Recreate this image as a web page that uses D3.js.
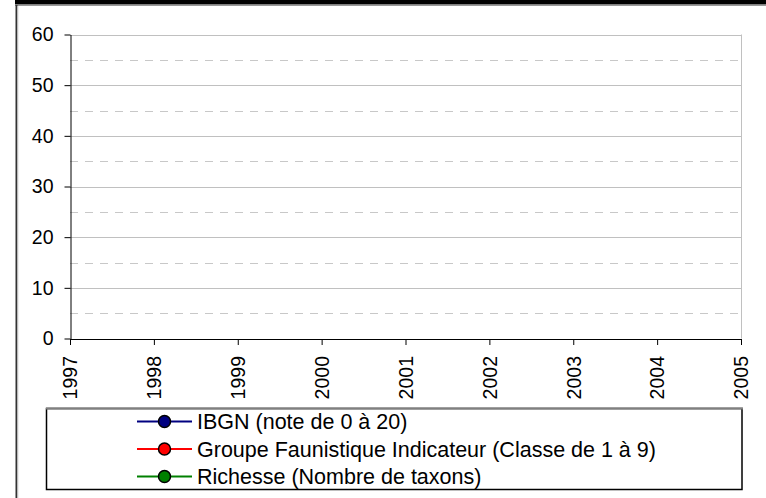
<!DOCTYPE html>
<html>
<head>
<meta charset="utf-8">
<script src="https://cdn.jsdelivr.net/npm/d3@7"></script>
<style>
  body { margin: 0; background: #fff; }
  svg { display: block; font-family: "Liberation Sans", Arial, sans-serif; }
</style>
</head>
<body>
<div id="chart"></div>
<script>
// Chart data: years on x, three series (no values recorded in the picture)
var years = [1997, 1998, 1999, 2000, 2001, 2002, 2003, 2004, 2005];
var yTicks = [0, 10, 20, 30, 40, 50, 60];
var yMinor = [5, 15, 25, 35, 45, 55];
var seriesNames = ["IBGN (note de 0 à 20)",
                   "Groupe Faunistique Indicateur (Classe de 1 à 9)",
                   "Richesse (Nombre de taxons)"];
var seriesColors = ["#000080", "#ff0000", "#008000"];
var ibgn = [];
var groupe = [];
var richesse = [];
var seriesValues = [ibgn, groupe, richesse];

var width = 766, height = 498;
var plot = {left: 70, top: 34.5, right: 741, bottom: 338.5};

var svg = d3.select("#chart").append("svg")
    .attr("width", width)
    .attr("height", height);

//// FRAME //////////////////////////////////////////////////////////////////////

svg.append("rect")
    .attr("x", 15).attr("y", 0)
    .attr("width", width - 15).attr("height", 4.5)
    .attr("fill", "#000");
svg.append("line")
    .attr("x1", 15).attr("x2", width)
    .attr("y1", 5.5).attr("y2", 5.5)
    .attr("stroke", "#999").attr("stroke-width", 1);
svg.append("line")
    .attr("x1", 16.5).attr("x2", 16.5)
    .attr("y1", 5).attr("y2", height)
    .attr("stroke", "#333").attr("stroke-width", 2);
svg.append("line")
    .attr("x1", 18).attr("x2", 18)
    .attr("y1", 6).attr("y2", height)
    .attr("stroke", "#ddd").attr("stroke-width", 1);

//// SCALES /////////////////////////////////////////////////////////////////////

var x = d3.scaleLinear().domain([1997, 2005]).range([plot.left, plot.right]);
var y = d3.scaleLinear().domain([0, 60]).range([plot.bottom, plot.top]);

// grid
svg.append("g").selectAll("line")
    .data(yMinor).enter().append("line")
    .attr("x1", plot.left).attr("x2", plot.right)
    .attr("y1", function(d) { return Math.round(y(d)) + 0.5; })
    .attr("y2", function(d) { return Math.round(y(d)) + 0.5; })
    .attr("stroke", "#c8c8c8")
    .attr("stroke-dasharray", "8,7");

svg.append("g").selectAll("line")
    .data(yTicks.filter(function(d) { return d > 0; })).enter().append("line")
    .attr("x1", plot.left).attr("x2", plot.right)
    .attr("y1", function(d) { return Math.round(y(d)) + 0.5; })
    .attr("y2", function(d) { return Math.round(y(d)) + 0.5; })
    .attr("stroke", "#c0c0c0");

svg.append("line")
    .attr("x1", plot.right + 0.5).attr("x2", plot.right + 0.5)
    .attr("y1", plot.top).attr("y2", plot.bottom)
    .attr("stroke", "#c0c0c0");

//// AXES ///////////////////////////////////////////////////////////////////////

var yAxis = svg.append("g")
    .attr("transform", "translate(" + (plot.left + 0.5) + ",0)")
    .call(d3.axisLeft(y).tickValues(yTicks).tickSize(6).tickSizeOuter(0).tickPadding(11));
yAxis.select(".domain").attr("stroke", "#000");
yAxis.selectAll("line").attr("stroke", "#000");
yAxis.selectAll("text")
    .attr("fill", "#000")
    .style("font-size", "19.5px")
    .style("font-family", "Liberation Sans, Arial, sans-serif");

var xAxis = svg.append("g")
    .attr("transform", "translate(0," + (plot.bottom + 0.5) + ")")
    .call(d3.axisBottom(x).tickValues(years).tickFormat(d3.format("d"))
        .tickSize(6).tickSizeOuter(0));
xAxis.select(".domain").attr("stroke", "#000");
xAxis.selectAll("line").attr("stroke", "#000");
xAxis.selectAll("text")
    .attr("fill", "#000")
    .style("font-size", "19.5px")
    .style("font-family", "Liberation Sans, Arial, sans-serif")
    .attr("text-anchor", "end")
    .attr("transform", "rotate(-90)")
    .attr("x", -17)
    .attr("y", 0)
    .attr("dy", "0.35em");

//// SERIES /////////////////////////////////////////////////////////////////////

var line = d3.line()
    .x(function(d, i) { return x(years[i]); })
    .y(function(d) { return y(d); });

seriesValues.forEach(function(vals, k) {
    svg.append("path")
        .datum(vals)
        .attr("fill", "none")
        .attr("stroke", seriesColors[k])
        .attr("stroke-width", 2)
        .attr("d", line);
    svg.append("g").selectAll("circle")
        .data(vals).enter().append("circle")
        .attr("cx", function(d, i) { return x(years[i]); })
        .attr("cy", function(d) { return y(d); })
        .attr("r", 6)
        .attr("fill", seriesColors[k])
        .attr("stroke", "#000")
        .attr("stroke-width", 1.5);
});

//// LEGEND /////////////////////////////////////////////////////////////////////

var legend = svg.append("g");
legend.append("rect")
    .attr("x", 46.5).attr("y", 408.5)
    .attr("width", 695.5).attr("height", 81)
    .attr("fill", "#fff")
    .attr("stroke", "#000").attr("stroke-width", 1.5);
legend.append("line")
    .attr("x1", 46).attr("x2", 743)
    .attr("y1", 408.5).attr("y2", 408.5)
    .attr("stroke", "#808080").attr("stroke-width", 2);

var rowY = d3.scalePoint().domain(d3.range(seriesNames.length)).range([421.5, 476.5]);

var item = legend.selectAll("g.item")
    .data(seriesNames).enter().append("g")
    .attr("class", "item")
    .attr("transform", function(d, i) { return "translate(0," + rowY(i) + ")"; });

item.append("line")
    .attr("x1", 137).attr("x2", 192)
    .attr("stroke", function(d, i) { return seriesColors[i]; })
    .attr("stroke-width", 2);
item.append("circle")
    .attr("cx", 164.5).attr("r", 6)
    .attr("fill", function(d, i) { return seriesColors[i]; })
    .attr("stroke", "#000").attr("stroke-width", 1.5);
item.append("text")
    .attr("x", 197)
    .attr("dy", "0.36em")
    .style("font-size", "21.5px")
    .attr("fill", "#000")
    .text(function(d) { return d; });
</script>
</body>
</html>
